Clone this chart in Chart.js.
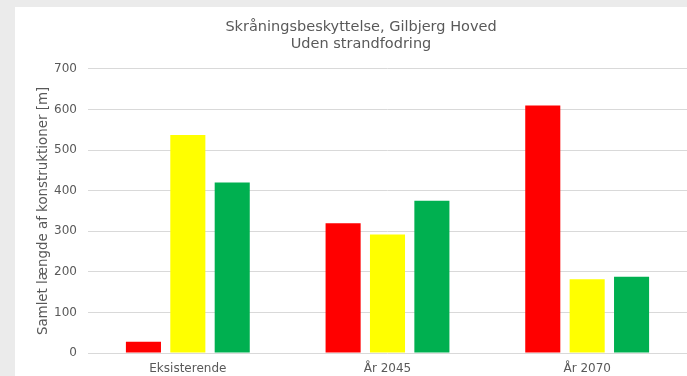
<!DOCTYPE html>
<html>
<head>
<meta charset="utf-8">
<script src="https://cdn.jsdelivr.net/npm/chart.js@4.4.1/dist/chart.umd.min.js"></script>
<style>
  html, body { margin: 0; padding: 0; background: #ebebeb; }
  #wrap { position: absolute; left: 15px; top: 7px; width: 672px; height: 369px; background: #fff; }
</style>
</head>
<body>
<div id="wrap"><canvas id="myChart"></canvas></div>
<script>
const categories = ['Eksisterende', 'År 2045', 'År 2070'];
const redValues = [28, 320, 610];
const yellowValues = [537, 292, 182];
const greenValues = [420, 375, 188];
const yTicks = [0, 100, 200, 300, 400, 500, 600, 700];

const textGrey = '#595959';
Chart.defaults.font.family = '"DejaVu Sans", Verdana, sans-serif';
Chart.defaults.color = textGrey;

const ctx = document.getElementById('myChart');
const data = {
    labels: categories,
    datasets: [
        { label: 'Rød', data: redValues, backgroundColor: '#ff0000' },
        { label: 'Gul', data: yellowValues, backgroundColor: '#ffff00' },
        { label: 'Grøn', data: greenValues, backgroundColor: '#00b050' }
    ]
};
const config = {
    type: 'bar',
    data: data,
    options: {
        responsive: true,
        maintainAspectRatio: false,
        animation: false,
        categoryPercentage: 0.667,
        barPercentage: 0.79,
        layout: { padding: { left: 20, right: 0, top: 0, bottom: 0 } },
        plugins: {
            legend: { display: false },
            tooltip: { enabled: false },
            title: {
                display: true,
                text: ['Skråningsbeskyttelse, Gilbjerg Hoved', 'Uden strandfodring'],
                color: textGrey,
                font: { size: 14.5, weight: 'normal', lineHeight: 1.17 },
                padding: { top: 12, bottom: 16 }
            }
        },
        scales: {
            x: {
                grid: { display: false, drawTicks: false },
                border: { display: false },
                ticks: { padding: 9, font: { size: 12 }, color: textGrey },
                afterFit: (scale) => { scale.height = 23; }
            },
            y: {
                min: 0,
                max: 700,
                afterBuildTicks: (scale) => { scale.ticks = yTicks.map(v => ({ value: v })); },
                grid: { color: '#d9d9d9', drawTicks: false },
                border: { display: false },
                ticks: { padding: 11, font: { size: 12 }, color: textGrey },
                title: {
                    display: true,
                    text: 'Samlet længde af konstruktioner [m]',
                    color: textGrey,
                    font: { size: 13.4 },
                    padding: { top: 0, bottom: 0 }
                },
                afterFit: (scale) => { scale.width = 53; }
            }
        }
    }
};
new Chart(ctx, config);
</script>
</body>
</html>
